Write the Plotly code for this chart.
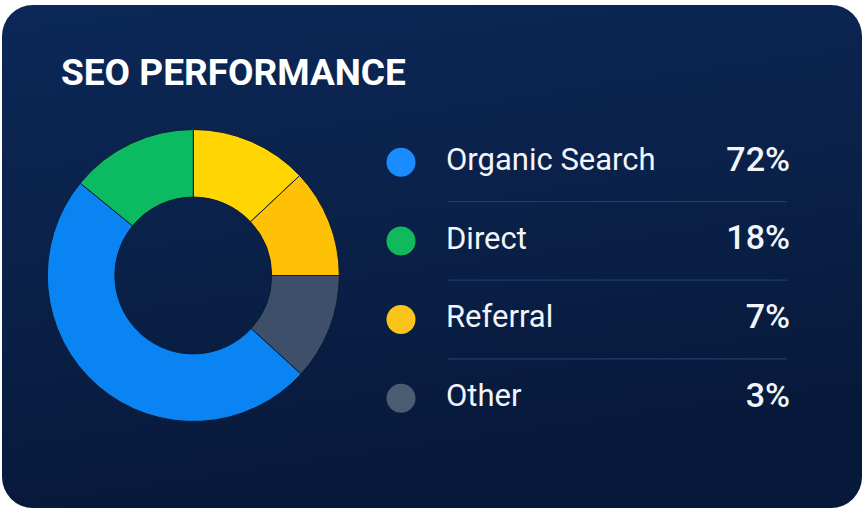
import base64
import plotly.graph_objects as go

# ---- data ----
title_text = "SEO PERFORMANCE"
legend_labels = ["Organic Search", "Direct", "Referral", "Other"]
legend_values = ["72%", "18%", "7%", "3%"]
legend_colors = ["#1a8cff", "#12b85c", "#fcc41a", "#4b5b72"]

# donut slices as drawn (clockwise from 12 o'clock), share of circle in %
slice_names = ["Referral A", "Referral B", "Other", "Organic Search", "Direct"]
slice_values = [13.0, 12.0, 11.8, 49.1, 14.1]
slice_colors = ["#ffd602", "#ffc105", "#3e5069", "#0b84f3", "#0cba62"]

W, H = 864, 511
FONT = "Roboto, Arial, sans-serif"

# background card (rounded rectangle with gradient) as an svg image
svg = f'''<svg xmlns="http://www.w3.org/2000/svg" width="{W}" height="{H}" viewBox="0 0 {W} {H}">
<defs><linearGradient id="g" x1="0" y1="0" x2="0.25" y2="1">
<stop offset="0" stop-color="#0c2858"/><stop offset="0.5" stop-color="#0a2149"/><stop offset="1" stop-color="#07193a"/>
</linearGradient></defs>
<rect x="2" y="5" width="860" height="503" rx="31" ry="31" fill="url(#g)"/>
</svg>'''
src = "data:image/svg+xml;base64," + base64.b64encode(svg.encode()).decode()

fig = go.Figure()

fig.add_trace(go.Pie(
    labels=slice_names, values=slice_values, sort=False, direction="clockwise",
    rotation=0, hole=0.537,
    marker=dict(colors=slice_colors, line=dict(color="#0a1a33", width=1)),
    textinfo="none", hoverinfo="skip", showlegend=False,
    domain=dict(x=[(193.3 - 146) / W, (193.3 + 146) / W],
                y=[(H - 275.5 - 146) / H, (H - 275.5 + 146) / H]),
))

# legend dots
fig.add_trace(go.Scatter(
    x=[401] * len(legend_labels), y=legend_labels, mode="markers",
    marker=dict(size=29, color=legend_colors, line=dict(width=0)),
    hoverinfo="skip", showlegend=False, xaxis="x", yaxis="y",
))
# legend labels
fig.add_trace(go.Scatter(
    x=[446] * len(legend_labels), y=legend_labels, mode="text",
    text=legend_labels, textposition="middle right",
    textfont=dict(family=FONT, size=31, color="#f2f5fa"),
    hoverinfo="skip", showlegend=False, xaxis="x", yaxis="y",
))
# legend values
fig.add_trace(go.Scatter(
    x=[790] * len(legend_labels), y=legend_labels, mode="text",
    text=legend_values, textposition="middle left",
    textfont=dict(family=FONT, size=34, color="#f2f5fa", weight=500),
    hoverinfo="skip", showlegend=False, xaxis="x", yaxis="y",
))

shapes = []
for i in range(len(legend_labels) - 1):
    shapes.append(dict(type="line", xref="x", yref="y", x0=448, x1=787,
                       y0=i + 0.5, y1=i + 0.5,
                       line=dict(color="#1c3d6c", width=1.2)))

fig.update_layout(
    width=W, height=H, margin=dict(l=0, r=0, t=0, b=0),
    paper_bgcolor="#ffffff", plot_bgcolor="rgba(0,0,0,0)",
    images=[dict(source=src, xref="paper", yref="paper", x=0, y=1,
                 sizex=1, sizey=1, xanchor="left", yanchor="top",
                 sizing="stretch", layer="below")],
    xaxis=dict(range=[0, W], domain=[0, 1], visible=False, fixedrange=True),
    yaxis=dict(type="category", categoryorder="array", categoryarray=legend_labels,
               range=[3.5, -0.5], domain=[(H - 437.5) / H, (H - 122.9) / H],
               visible=False, fixedrange=True),
    shapes=shapes,
    annotations=[dict(text=title_text, xref="paper", yref="paper",
                      x=59 / W, y=1 - 72 / H, xanchor="left", yanchor="middle",
                      showarrow=False,
                      font=dict(family=FONT, size=37, color="#ffffff", weight="bold"))],
    showlegend=False,
)

fig.write_html("out.html")
